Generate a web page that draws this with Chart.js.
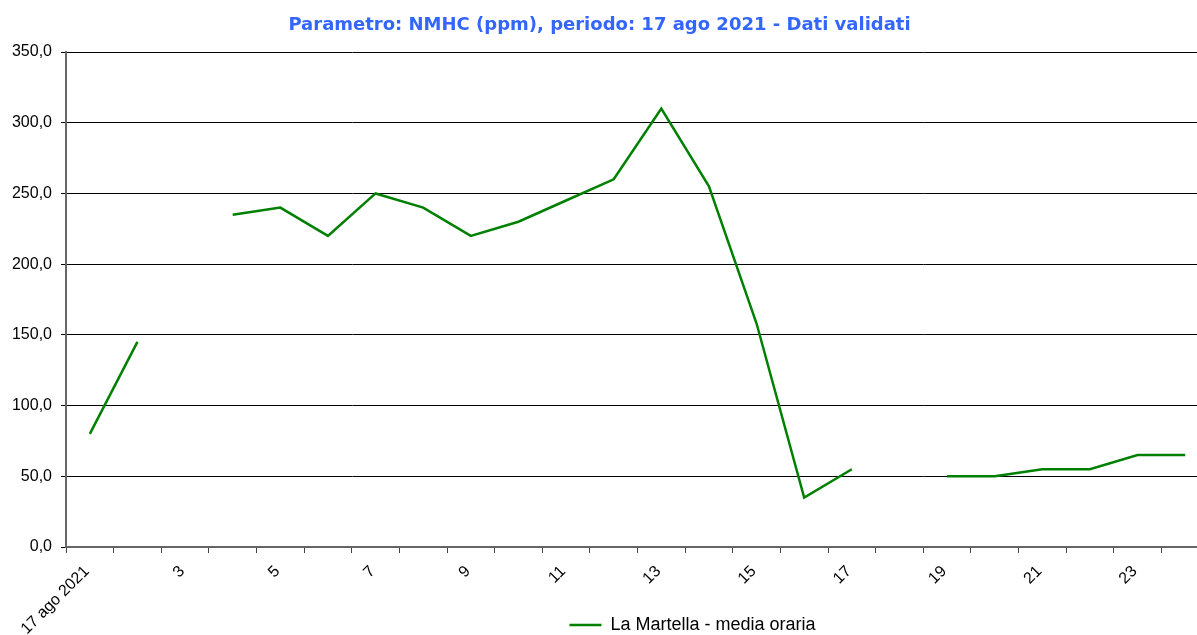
<!DOCTYPE html>
<html>
<head>
<meta charset="utf-8">
<script src="https://cdn.jsdelivr.net/npm/chart.js@4.4.1/dist/chart.umd.min.js"></script>
<style>
  html, body { margin: 0; padding: 0; background: #fff; overflow: hidden; }
  #wrap { width: 1210px; height: 635px; }
</style>
</head>
<body>
<div id="wrap"><canvas id="nmhcChart" width="1210" height="635"></canvas></div>
<script>
// Ore del giorno (la prima etichetta porta la data)
const hours = ['17 ago 2021', '2', '3', '4', '5', '6', '7', '8', '9', '10', '11', '12',
               '13', '14', '15', '16', '17', '18', '19', '20', '21', '22', '23', '24'];

// La Martella - media oraria (ppm), null = dato mancante
const laMartella = [80, 145, null, 235, 240, 220, 250, 240, 220, 230, 245, 260,
                    310, 255, 158, 35, 55, null, 50, 50, 55, 55, 65, 65];

const yTicks = [0, 50, 100, 150, 200, 250, 300, 350];

const titleText = 'Parametro: NMHC (ppm), periodo: 17 ago 2021 - Dati validati';
const seriesName = 'La Martella - media oraria';

// sposta titolo e legenda come nel grafico originale
// (la legenda non occupa spazio, le etichette ruotate le passano accanto)
const shiftBoxes = {
    id: 'shiftBoxes',
    afterLayout(chart) {
        const lg = chart.legend;
        lg.top = 612;
        lg.bottom = 640;
        lg.height = 28;
        lg.left += 88;
        lg.right += 88;
        chart.titleBlock.left -= 5;
        chart.titleBlock.right -= 5;
    }
};

const ctx = document.getElementById('nmhcChart').getContext('2d');
new Chart(ctx, {
    type: 'line',
    data: {
        labels: hours,
        datasets: [{
            label: seriesName,
            data: laMartella,
            borderColor: '#008000',
            backgroundColor: '#008000',
            borderWidth: 2.5,
            pointRadius: 0,
            tension: 0,
            spanGaps: false
        }]
    },
    options: {
        responsive: false,
        animation: false,
        devicePixelRatio: 1,
        layout: { padding: { left: 0, right: 1, top: 0, bottom: 0 } },
        plugins: {
            title: {
                display: true,
                text: titleText,
                color: '#3366ff',
                font: { family: '"DejaVu Sans", Verdana, sans-serif', size: 18, weight: 'bold' },
                padding: { top: 15, bottom: 15.4 }
            },
            legend: {
                display: true,
                position: 'bottom',
                maxHeight: 1,
                labels: {
                    usePointStyle: true,
                    pointStyle: 'line',
                    pointStyleWidth: 32,
                    color: '#000',
                    padding: 4,
                    font: { family: 'Arial, "Liberation Sans", sans-serif', size: 18 }
                }
            },
            tooltip: { enabled: false }
        },
        scales: {
            x: {
                offset: true,
                afterFit(scale) {
                    scale.height = 635 - 547 - 1;
                },
                border: { color: '#666', width: 2 },
                grid: {
                    offset: true,
                    drawOnChartArea: false,
                    drawTicks: true,
                    tickLength: 6,
                    color: '#444'
                },
                ticks: {
                    autoSkip: false,
                    minRotation: 45,
                    maxRotation: 45,
                    padding: 9,
                    labelOffset: -3,
                    color: '#000',
                    font: { family: 'Arial, "Liberation Sans", sans-serif', size: 16 },
                    callback: function (value, index) {
                        return index % 2 === 0 ? hours[index] : '';
                    }
                }
            },
            y: {
                min: yTicks[0],
                max: yTicks[yTicks.length - 1],
                afterFit(scale) {
                    scale.width = 66;
                },
                afterBuildTicks(scale) {
                    scale.ticks = yTicks.map(v => ({ value: v }));
                },
                border: { color: '#666', width: 2 },
                grid: {
                    color: '#000',
                    lineWidth: 1,
                    tickLength: 5
                },
                ticks: {
                    padding: 9,
                    color: '#000',
                    font: { family: 'Arial, "Liberation Sans", sans-serif', size: 16 },
                    callback: v => v.toFixed(1).replace('.', ',')
                }
            }
        }
    },
    plugins: [shiftBoxes]
});
</script>
</body>
</html>
